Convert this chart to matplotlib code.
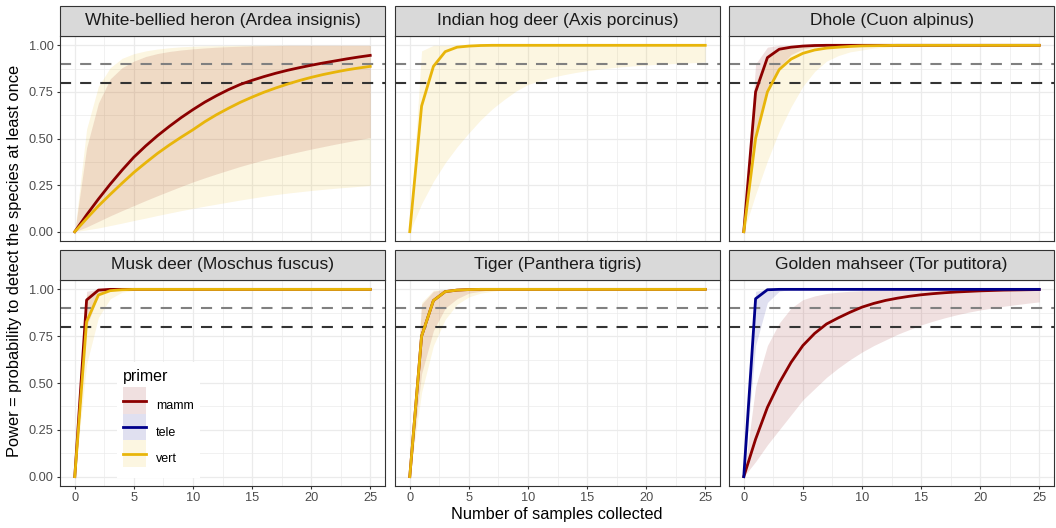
import matplotlib
matplotlib.use('Agg')
import matplotlib.pyplot as plt
from matplotlib.patches import Rectangle, Patch
from matplotlib.lines import Line2D
from matplotlib.legend_handler import HandlerTuple, HandlerPatch

plt.rcParams['font.family'] = ['Liberation Sans', 'DejaVu Sans']
plt.rcParams['lines.scale_dashes'] = False

# ---------------- data ----------------
samples = [0, 1, 2, 3, 4, 5, 6, 7, 8, 9, 10, 11, 12, 13, 14, 15, 16, 17, 18, 19, 20, 21, 22, 23, 24, 25]

species = ["White-bellied heron (Ardea insignis)", "Indian hog deer (Axis porcinus)",
           "Dhole (Cuon alpinus)", "Musk deer (Moschus fuscus)",
           "Tiger (Panthera tigris)", "Golden mahseer (Tor putitora)"]
primers = ["mamm", "tele", "vert"]

heron_mamm = [0.0, 0.09, 0.175, 0.255, 0.33, 0.40, 0.46, 0.515, 0.565, 0.612, 0.655, 0.695, 0.73,
              0.762, 0.79, 0.812, 0.832, 0.85, 0.866, 0.88, 0.893, 0.905, 0.916, 0.927, 0.937, 0.946]
heron_mamm_lo = [0.0, 0.025, 0.055, 0.085, 0.113, 0.14, 0.167, 0.193, 0.218, 0.243, 0.267, 0.289, 0.31,
                 0.33, 0.35, 0.368, 0.385, 0.40, 0.415, 0.429, 0.443, 0.456, 0.469, 0.481, 0.493, 0.505]
heron_mamm_hi = [0.0, 0.45, 0.69, 0.82, 0.88, 0.915, 0.94, 0.956, 0.967, 0.975, 0.981, 0.986, 0.99,
                 0.993, 0.995, 0.997, 0.998, 0.999, 1.0, 1.0, 1.0, 1.0, 1.0, 1.0, 1.0, 1.0]
heron_vert = [0.0, 0.07, 0.138, 0.20, 0.26, 0.318, 0.37, 0.42, 0.465, 0.507, 0.547, 0.59, 0.628,
              0.662, 0.694, 0.722, 0.748, 0.771, 0.792, 0.811, 0.828, 0.843, 0.856, 0.868, 0.878, 0.887]
heron_vert_lo = [0.0, 0.01, 0.02, 0.033, 0.046, 0.06, 0.073, 0.087, 0.10, 0.113, 0.125, 0.137, 0.148,
                 0.159, 0.17, 0.18, 0.19, 0.199, 0.207, 0.214, 0.221, 0.227, 0.233, 0.238, 0.243, 0.248]
heron_vert_hi = [0.0, 0.55, 0.78, 0.88, 0.93, 0.955, 0.97, 0.98, 0.987, 0.992, 0.995, 0.997, 0.998,
                 0.999, 1.0, 1.0, 1.0, 1.0, 1.0, 1.0, 1.0, 1.0, 1.0, 1.0, 1.0, 1.0]

hog_vert = [0.0, 0.674, 0.887, 0.966, 0.99, 0.996, 0.999, 1.0, 1.0, 1.0, 1.0, 1.0, 1.0,
            1.0, 1.0, 1.0, 1.0, 1.0, 1.0, 1.0, 1.0, 1.0, 1.0, 1.0, 1.0, 1.0]
hog_vert_lo = [0.0, 0.15, 0.27, 0.37, 0.455, 0.53, 0.60, 0.66, 0.71, 0.755, 0.79, 0.81, 0.828,
               0.842, 0.854, 0.864, 0.872, 0.879, 0.885, 0.89, 0.894, 0.898, 0.901, 0.904, 0.907, 0.91]
hog_vert_hi = [0.0, 0.97, 1.0, 1.0, 1.0, 1.0, 1.0, 1.0, 1.0, 1.0, 1.0, 1.0, 1.0,
               1.0, 1.0, 1.0, 1.0, 1.0, 1.0, 1.0, 1.0, 1.0, 1.0, 1.0, 1.0, 1.0]

dhole_mamm = [0.0, 0.75, 0.934, 0.979, 0.99, 0.996, 0.999, 1.0, 1.0, 1.0, 1.0, 1.0, 1.0,
              1.0, 1.0, 1.0, 1.0, 1.0, 1.0, 1.0, 1.0, 1.0, 1.0, 1.0, 1.0, 1.0]
dhole_mamm_lo = [0.0, 0.5, 0.75, 0.88, 0.95, 0.98, 0.99, 0.997, 1.0, 1.0, 1.0, 1.0, 1.0,
                 1.0, 1.0, 1.0, 1.0, 1.0, 1.0, 1.0, 1.0, 1.0, 1.0, 1.0, 1.0, 1.0]
dhole_mamm_hi = [0.0, 0.9, 0.99, 1.0, 1.0, 1.0, 1.0, 1.0, 1.0, 1.0, 1.0, 1.0, 1.0,
                 1.0, 1.0, 1.0, 1.0, 1.0, 1.0, 1.0, 1.0, 1.0, 1.0, 1.0, 1.0, 1.0]
dhole_vert = [0.0, 0.5, 0.75, 0.87, 0.926, 0.957, 0.975, 0.985, 0.99, 0.994, 0.997, 0.998, 0.999,
              1.0, 1.0, 1.0, 1.0, 1.0, 1.0, 1.0, 1.0, 1.0, 1.0, 1.0, 1.0, 1.0]
dhole_vert_lo = [0.0, 0.2, 0.38, 0.54, 0.67, 0.78, 0.86, 0.915, 0.945, 0.965, 0.975, 0.985, 0.99,
                 0.995, 0.998, 1.0, 1.0, 1.0, 1.0, 1.0, 1.0, 1.0, 1.0, 1.0, 1.0, 1.0]
dhole_vert_hi = [0.0, 0.8, 0.95, 0.99, 1.0, 1.0, 1.0, 1.0, 1.0, 1.0, 1.0, 1.0, 1.0,
                 1.0, 1.0, 1.0, 1.0, 1.0, 1.0, 1.0, 1.0, 1.0, 1.0, 1.0, 1.0, 1.0]

musk_mamm = [0.0, 0.943, 0.996, 1.0, 1.0, 1.0, 1.0, 1.0, 1.0, 1.0, 1.0, 1.0, 1.0,
             1.0, 1.0, 1.0, 1.0, 1.0, 1.0, 1.0, 1.0, 1.0, 1.0, 1.0, 1.0, 1.0]
musk_mamm_lo = [0.0, 0.8, 0.97, 0.995, 1.0, 1.0, 1.0, 1.0, 1.0, 1.0, 1.0, 1.0, 1.0,
                1.0, 1.0, 1.0, 1.0, 1.0, 1.0, 1.0, 1.0, 1.0, 1.0, 1.0, 1.0, 1.0]
musk_mamm_hi = [0.0, 0.99, 1.0, 1.0, 1.0, 1.0, 1.0, 1.0, 1.0, 1.0, 1.0, 1.0, 1.0,
                1.0, 1.0, 1.0, 1.0, 1.0, 1.0, 1.0, 1.0, 1.0, 1.0, 1.0, 1.0, 1.0]
musk_vert = [0.0, 0.827, 0.97, 0.993, 0.998, 1.0, 1.0, 1.0, 1.0, 1.0, 1.0, 1.0, 1.0,
             1.0, 1.0, 1.0, 1.0, 1.0, 1.0, 1.0, 1.0, 1.0, 1.0, 1.0, 1.0, 1.0]
musk_vert_lo = [0.0, 0.6, 0.85, 0.95, 0.985, 0.995, 1.0, 1.0, 1.0, 1.0, 1.0, 1.0, 1.0,
                1.0, 1.0, 1.0, 1.0, 1.0, 1.0, 1.0, 1.0, 1.0, 1.0, 1.0, 1.0, 1.0]
musk_vert_hi = [0.0, 0.97, 0.998, 1.0, 1.0, 1.0, 1.0, 1.0, 1.0, 1.0, 1.0, 1.0, 1.0,
                1.0, 1.0, 1.0, 1.0, 1.0, 1.0, 1.0, 1.0, 1.0, 1.0, 1.0, 1.0, 1.0]

tiger_mamm = [0.0, 0.75, 0.94, 0.988, 0.996, 0.999, 1.0, 1.0, 1.0, 1.0, 1.0, 1.0, 1.0,
              1.0, 1.0, 1.0, 1.0, 1.0, 1.0, 1.0, 1.0, 1.0, 1.0, 1.0, 1.0, 1.0]
tiger_mamm_lo = [0.0, 0.55, 0.78, 0.9, 0.95, 0.98, 0.99, 1.0, 1.0, 1.0, 1.0, 1.0, 1.0,
                 1.0, 1.0, 1.0, 1.0, 1.0, 1.0, 1.0, 1.0, 1.0, 1.0, 1.0, 1.0, 1.0]
tiger_mamm_hi = [0.0, 0.92, 0.99, 1.0, 1.0, 1.0, 1.0, 1.0, 1.0, 1.0, 1.0, 1.0, 1.0,
                 1.0, 1.0, 1.0, 1.0, 1.0, 1.0, 1.0, 1.0, 1.0, 1.0, 1.0, 1.0, 1.0]
tiger_vert = [0.0, 0.75, 0.94, 0.988, 0.996, 0.999, 1.0, 1.0, 1.0, 1.0, 1.0, 1.0, 1.0,
              1.0, 1.0, 1.0, 1.0, 1.0, 1.0, 1.0, 1.0, 1.0, 1.0, 1.0, 1.0, 1.0]
tiger_vert_lo = [0.0, 0.45, 0.7, 0.84, 0.92, 0.96, 0.98, 0.99, 0.997, 1.0, 1.0, 1.0, 1.0,
                 1.0, 1.0, 1.0, 1.0, 1.0, 1.0, 1.0, 1.0, 1.0, 1.0, 1.0, 1.0, 1.0]
tiger_vert_hi = [0.0, 0.93, 0.995, 1.0, 1.0, 1.0, 1.0, 1.0, 1.0, 1.0, 1.0, 1.0, 1.0,
                 1.0, 1.0, 1.0, 1.0, 1.0, 1.0, 1.0, 1.0, 1.0, 1.0, 1.0, 1.0, 1.0]

mahseer_tele = [0.0, 0.95, 0.998, 1.0, 1.0, 1.0, 1.0, 1.0, 1.0, 1.0, 1.0, 1.0, 1.0,
                1.0, 1.0, 1.0, 1.0, 1.0, 1.0, 1.0, 1.0, 1.0, 1.0, 1.0, 1.0, 1.0]
mahseer_tele_lo = [0.0, 0.7, 0.93, 0.99, 1.0, 1.0, 1.0, 1.0, 1.0, 1.0, 1.0, 1.0, 1.0,
                   1.0, 1.0, 1.0, 1.0, 1.0, 1.0, 1.0, 1.0, 1.0, 1.0, 1.0, 1.0, 1.0]
mahseer_tele_hi = [0.0, 0.99, 1.0, 1.0, 1.0, 1.0, 1.0, 1.0, 1.0, 1.0, 1.0, 1.0, 1.0,
                   1.0, 1.0, 1.0, 1.0, 1.0, 1.0, 1.0, 1.0, 1.0, 1.0, 1.0, 1.0, 1.0]
mahseer_mamm = [0.0, 0.2, 0.37, 0.5, 0.61, 0.7, 0.765, 0.815, 0.848, 0.878, 0.905, 0.925, 0.941,
                0.953, 0.963, 0.971, 0.977, 0.982, 0.986, 0.989, 0.992, 0.994, 0.996, 0.997, 0.998, 0.999]
mahseer_mamm_lo = [0.0, 0.08, 0.17, 0.25, 0.33, 0.41, 0.47, 0.53, 0.58, 0.625, 0.665, 0.70, 0.73,
                   0.76, 0.785, 0.81, 0.83, 0.848, 0.864, 0.878, 0.89, 0.90, 0.91, 0.918, 0.926, 0.933]
mahseer_mamm_hi = [0.0, 0.48, 0.7, 0.82, 0.9, 0.945, 0.965, 0.978, 0.985, 0.99, 0.993, 0.995, 0.997,
                   0.998, 0.999, 1.0, 1.0, 1.0, 1.0, 1.0, 1.0, 1.0, 1.0, 1.0, 1.0, 1.0]

power_thresholds = [0.9, 0.8]

panel_series = [
    [("mamm", heron_mamm, heron_mamm_lo, heron_mamm_hi), ("vert", heron_vert, heron_vert_lo, heron_vert_hi)],
    [("vert", hog_vert, hog_vert_lo, hog_vert_hi)],
    [("mamm", dhole_mamm, dhole_mamm_lo, dhole_mamm_hi), ("vert", dhole_vert, dhole_vert_lo, dhole_vert_hi)],
    [("mamm", musk_mamm, musk_mamm_lo, musk_mamm_hi), ("vert", musk_vert, musk_vert_lo, musk_vert_hi)],
    [("mamm", tiger_mamm, tiger_mamm_lo, tiger_mamm_hi), ("vert", tiger_vert, tiger_vert_lo, tiger_vert_hi)],
    [("mamm", mahseer_mamm, mahseer_mamm_lo, mahseer_mamm_hi), ("tele", mahseer_tele, mahseer_tele_lo, mahseer_tele_hi)],
]

# ---------------- style ----------------
colors = {"mamm": "#8B0000", "tele": "#00008B", "vert": "#E8B50A"}
ribbon_alpha = 0.12
thr_colors = ["#808080", "#333333"]
grid_col = "#EBEBEB"
dark = "#333333"

W, H = 1056, 528
fig = plt.figure(figsize=(W / 100, H / 100), dpi=100)

col_x = [60, 395, 729]
pw = 325
rows = [(36, 241), (280, 486)]
strip_h = 30

axes = []
for i, sp in enumerate(species):
    r, c = divmod(i, 3)
    top, bot = rows[r]
    x0 = col_x[c]
    ax = fig.add_axes([x0 / W, 1 - bot / H, pw / W, (bot - top) / H])
    axes.append(ax)
    ax.set_xlim(-1.25, 26.25)
    ax.set_ylim(-0.05, 1.05)
    ax.set_xticks([0, 5, 10, 15, 20, 25])
    ax.set_xticks([2.5, 7.5, 12.5, 17.5, 22.5], minor=True)
    ax.set_yticks([0, 0.25, 0.5, 0.75, 1.0])
    ax.set_yticks([0.125, 0.375, 0.625, 0.875], minor=True)
    ax.grid(which='major', color=grid_col, lw=0.9)
    ax.grid(which='minor', color=grid_col, lw=0.5)
    ax.set_axisbelow(True)
    ax.tick_params(which='minor', length=0)
    ax.tick_params(which='major', length=2.5, width=0.8, color=dark,
                   labelsize=9.2, labelcolor='#4D4D4D', pad=2)
    if c == 0:
        ax.set_yticklabels(["0.00", "0.25", "0.50", "0.75", "1.00"])
    else:
        ax.tick_params(axis='y', which='major', length=0, labelleft=False)
    if r == 1:
        ax.set_xticklabels(["0", "5", "10", "15", "20", "25"])
    else:
        ax.tick_params(axis='x', which='major', length=0, labelbottom=False)
    for s in ax.spines.values():
        s.set_color(dark)
        s.set_linewidth(0.8)
        s.set_zorder(5)

    for primer, mean, lo, hi in panel_series[i]:
        ax.fill_between(samples, lo, hi, color=colors[primer], alpha=ribbon_alpha, lw=0, zorder=1)
    for t, tc in zip(power_thresholds, thr_colors):
        ax.axhline(t, color=tc, lw=1.5, dashes=(8, 6.5), zorder=2)
    for primer, mean, lo, hi in panel_series[i]:
        ax.plot(samples, mean, color=colors[primer], lw=2.0, zorder=3, solid_joinstyle='round')

    # strip
    fig.add_artist(Rectangle((x0 / W, 1 - top / H), pw / W, strip_h / H, transform=fig.transFigure,
                             facecolor="#D9D9D9", edgecolor=dark, lw=0.8))
    fig.text((x0 + pw / 2) / W, 1 - (top - strip_h / 2) / H, sp, ha='center', va='center',
             fontsize=12.5, color='#1A1A1A')


def centered_key(legend, orig_handle, xdescent, ydescent, width, height, fontsize):
    # key rectangle centred on the legend line
    return Rectangle((-xdescent, -ydescent / 2), width, height)


# legend in Musk deer panel
handles = []
for p in primers:
    handles.append((Patch(facecolor=colors[p], alpha=ribbon_alpha, edgecolor='none'),
                    Line2D([], [], color=colors[p], lw=2.0)))
leg = axes[3].legend(handles, primers, title="primer", loc='upper left',
                     bbox_to_anchor=(0.155, 0.63), frameon=True, facecolor='white',
                     edgecolor='none', framealpha=1, fancybox=False,
                     handler_map={tuple: HandlerTuple(ndivide=1, pad=0),
                                  Patch: HandlerPatch(patch_func=centered_key)},
                     fontsize=9, title_fontsize=11.5, handlelength=1.85, handleheight=2.9,
                     labelspacing=0.0, handletextpad=0.8, borderpad=0.5, alignment='left')
leg._legend_box.sep = 6
leg.set_zorder(6)

fig.text(15 / W, 1 - 261 / H, "Power = probability to detect the species at least once",
         rotation=90, ha='center', va='center', fontsize=11.8, color='black')
fig.text(557 / W, 1 - 514 / H, "Number of samples collected", ha='center', va='center',
         fontsize=11.8, color='black')

fig.savefig("out.png", dpi=100)
